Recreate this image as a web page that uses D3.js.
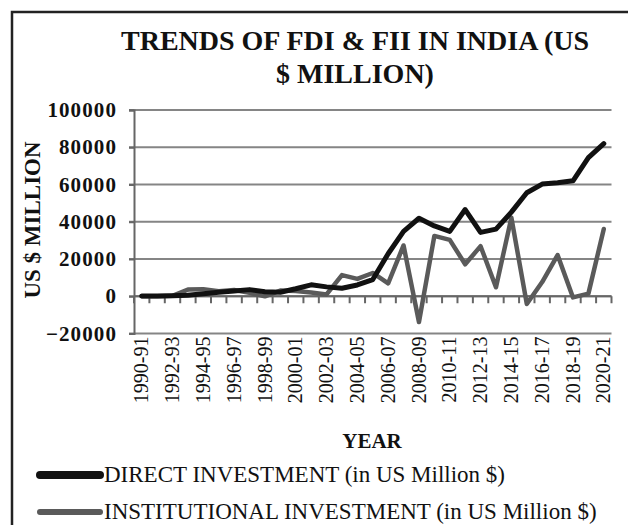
<!DOCTYPE html>
<html>
<head>
<meta charset="utf-8">
<script src="https://cdn.jsdelivr.net/npm/d3@7"></script>
<style>
  body { margin: 0; background: #fff; }
  svg { display: block; font-family: "Liberation Serif", "Times New Roman", serif; }
</style>
</head>
<body>
<svg id="chart" width="628" height="525"></svg>
<script>
// years on the category axis
const years = ["1990-91","1991-92","1992-93","1993-94","1994-95","1995-96","1996-97","1997-98",
  "1998-99","1999-00","2000-01","2001-02","2002-03","2003-04","2004-05","2005-06","2006-07",
  "2007-08","2008-09","2009-10","2010-11","2011-12","2012-13","2013-14","2014-15","2015-16",
  "2016-17","2017-18","2018-19","2019-20","2020-21"];

// direct investment (black line)
const fdi = [97, 129, 315, 586, 1314, 2144, 2821, 3557, 2462, 2155, 4029, 6130, 5035, 4322,
  6051, 8961, 22826, 34843, 41873, 37745, 34847, 46556, 34298, 36046, 45148, 55559, 60220,
  60974, 62001, 74390, 81973];

// institutional investment (grey line)
const fii = [6, 4, 244, 3567, 3824, 2748, 3312, 1828, -61, 3026, 2760, 2021, 979, 11377,
  9315, 12492, 6947, 27271, -13855, 32396, 30293, 17171, 26891, 4822, 42205, -4130, 7612,
  22115, -618, 1403, 36137];

const yTicks = [-20000, 0, 20000, 40000, 60000, 80000, 100000];
const xLabels = years.filter((d, i) => i % 2 === 0);

const series = [
  {name: "DIRECT INVESTMENT (in US Million $)", values: fdi, color: "#111", width: 5, legendWidth: 8},
  {name: "INSTITUTIONAL INVESTMENT (in US Million $)", values: fii, color: "#5a5a5a", width: 4.5, legendWidth: 6}
];

const svg = d3.select("#chart");

// outer frame (right and bottom edges fall outside the picture)
svg.append("rect")
  .attr("x", 12).attr("y", 12)
  .attr("width", 640).attr("height", 540)
  .attr("fill", "none").attr("stroke", "#222").attr("stroke-width", 2.5);

// title
const title = svg.append("text")
  .attr("text-anchor", "middle")
  .attr("font-weight", "bold")
  .attr("font-size", 28)
  .attr("fill", "#111");
title.append("tspan").attr("x", 355).attr("y", 50).text("TRENDS OF FDI & FII IN INDIA (US");
title.append("tspan").attr("x", 355).attr("y", 83).text("$ MILLION)");

const plotLeft = 134, plotRight = 611.5, plotTop = 110, plotBottom = 333.5;

const x = d3.scaleBand().domain(years).range([plotLeft, plotRight]);
const y = d3.scaleLinear().domain([-20000, 100000]).range([plotBottom, plotTop]);

// gridlines
svg.append("g")
  .selectAll("line")
  .data(yTicks)
  .join("line")
  .attr("x1", plotLeft - 5).attr("x2", plotRight)
  .attr("y1", d => y(d)).attr("y2", d => y(d))
  .attr("stroke", "#858585").attr("stroke-width", 2);

// y axis
const yAxis = svg.append("g")
  .attr("transform", `translate(${plotLeft},0)`)
  .call(d3.axisLeft(y).tickValues(yTicks).tickSize(5).tickPadding(12).tickFormat(d3.format("d")));
yAxis.select(".domain").attr("stroke", "#666").attr("stroke-width", 2);
yAxis.selectAll(".tick line").attr("stroke", "#666").attr("stroke-width", 2);
yAxis.selectAll("text")
  .attr("font-family", "Liberation Serif")
  .attr("font-size", 21).attr("font-weight", "bold").attr("fill", "#111")
  .attr("letter-spacing", 1.1);

// category axis crossing at zero, ticks between categories
const boundaries = years.map(d => x(d)).concat([plotRight]);
const zeroAxis = svg.append("g");
zeroAxis.append("line")
  .attr("x1", plotLeft).attr("x2", plotRight)
  .attr("y1", y(0)).attr("y2", y(0))
  .attr("stroke", "#666").attr("stroke-width", 2);
zeroAxis.selectAll(".tk")
  .data(boundaries)
  .join("line")
  .attr("class", "tk")
  .attr("x1", d => d).attr("x2", d => d)
  .attr("y1", y(0)).attr("y2", y(0) + 7)
  .attr("stroke", "#666").attr("stroke-width", 2);

// category labels at the bottom
svg.append("g")
  .selectAll("text")
  .data(xLabels)
  .join("text")
  .attr("transform", d => `translate(${x(d) + x.bandwidth() / 2},${plotBottom + 3}) rotate(-90)`)
  .attr("dy", "0.33em")
  .attr("text-anchor", "end")
  .attr("font-size", 20)
  .attr("fill", "#111")
  .text(d => d);

// lines
const line = d3.line()
  .x((d, i) => x(years[i]) + x.bandwidth() / 2)
  .y(d => y(d));

svg.append("g")
  .selectAll("path")
  .data(series.slice().reverse())
  .join("path")
  .attr("d", d => line(d.values))
  .attr("fill", "none")
  .attr("stroke", d => d.color)
  .attr("stroke-width", d => d.width)
  .attr("stroke-linejoin", "round")
  .attr("stroke-linecap", "round");

// axis titles
svg.append("text")
  .attr("transform", "translate(40,220) rotate(-90)")
  .attr("text-anchor", "middle")
  .attr("font-size", 23).attr("font-weight", "bold").attr("fill", "#111")
  .text("US $ MILLION");

svg.append("text")
  .attr("x", 372).attr("y", 448)
  .attr("text-anchor", "middle")
  .attr("font-size", 21).attr("font-weight", "bold").attr("fill", "#111")
  .text("YEAR");

// legend
const legend = svg.append("g")
  .selectAll("g")
  .data(series)
  .join("g")
  .attr("transform", (d, i) => `translate(0,${475 + i * 37})`);
legend.append("line")
  .attr("x1", 40).attr("x2", 100)
  .attr("stroke", d => d.color)
  .attr("stroke-width", d => d.legendWidth)
  .attr("stroke-linecap", "round");
legend.append("text")
  .attr("x", 104).attr("y", 7)
  .attr("font-size", 23).attr("fill", "#111")
  .text(d => d.name);
</script>
</body>
</html>
